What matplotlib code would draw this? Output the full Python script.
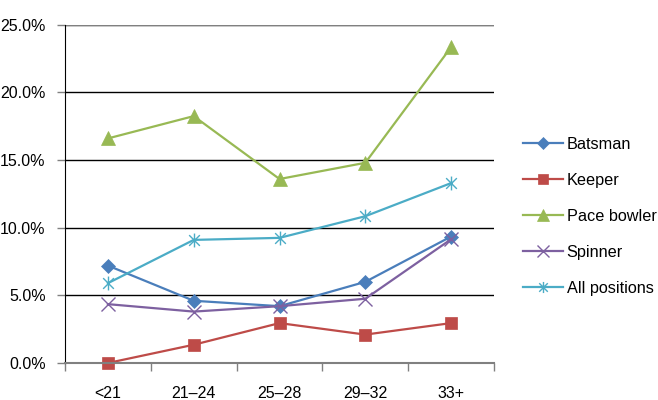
import matplotlib
matplotlib.use("Agg")
import matplotlib.pyplot as plt
from matplotlib.path import Path
from matplotlib.ticker import FuncFormatter

plt.rcParams['font.family'] = ['Liberation Sans', 'DejaVu Sans']

# data (percent)
categories = ["<21", "21\u201324", "25\u201328", "29\u201332", "33+"]
batsman = [7.2, 4.6, 4.2, 6.0, 9.35]
keeper = [0.0, 1.35, 2.95, 2.1, 2.95]
pace_bowler = [16.6, 18.25, 13.6, 14.8, 23.35]
spinner = [4.35, 3.8, 4.2, 4.75, 9.15]
all_positions = [5.9, 9.1, 9.25, 10.85, 13.3]

# Excel style star marker: an x with a vertical bar
star = Path([(-1, -1), (1, 1), (-1, 1), (1, -1), (0, -1.3), (0, 1.3)],
            [Path.MOVETO, Path.LINETO, Path.MOVETO, Path.LINETO, Path.MOVETO, Path.LINETO])

series = [
    ("Batsman", batsman, "#4A7EBB", "D", 7.5),
    ("Keeper", keeper, "#BE4B48", "s", 8.5),
    ("Pace bowler", pace_bowler, "#98B954", "^", 10),
    ("Spinner", spinner, "#7D60A0", "x", 10),
    ("All positions", all_positions, "#4BACC6", star, 10),
]

fig = plt.figure(figsize=(6.58, 4.0), dpi=100)
ax = fig.add_axes([0.0988, 0.0925, 0.652, 0.8455])

x = list(range(len(categories)))
for name, vals, col, mk, ms in series:
    ax.plot(x, vals, color=col, lw=1.6, marker=mk, markersize=ms,
            markeredgewidth=1.0 if mk == "x" or mk is star else 0.5,
            markerfacecolor=col, markeredgecolor=col, label=name, clip_on=False)

ax.set_xlim(-0.5, 4.5)
ax.set_ylim(0, 25)
ax.set_yticks([0, 5, 10, 15, 20, 25])
ax.yaxis.set_major_formatter(FuncFormatter(lambda v, p: f"{v:.1f}%"))
ax.set_xticks(x)
ax.set_xticklabels(categories)
ax.set_xticks([-0.5, 0.5, 1.5, 2.5, 3.5, 4.5], minor=True)

ax.grid(axis='y', color='black', lw=1.0)
ax.set_axisbelow(True)
for s in ("top", "right"):
    ax.spines[s].set_visible(False)
ax.spines["left"].set_color("black")
ax.spines["bottom"].set_color("#808080")
ax.spines["bottom"].set_linewidth(1.5)
ax.axhline(25, color="#808080", lw=1.5)

ax.tick_params(axis='x', which='major', length=0, pad=16.5, labelsize=11.5)
ax.tick_params(axis='x', which='minor', length=5.5, color="#808080", width=1)
ax.tick_params(axis='y', length=5.5, color="#808080", width=1, labelsize=11.5, pad=8.5)

leg = ax.legend(loc="center left", bbox_to_anchor=(1.033, 0.434), frameon=False,
                fontsize=11.7, handlelength=2.45, labelspacing=1.29, handletextpad=0.25,
                markerscale=0.8)

fig.savefig("out.png", dpi=100)
